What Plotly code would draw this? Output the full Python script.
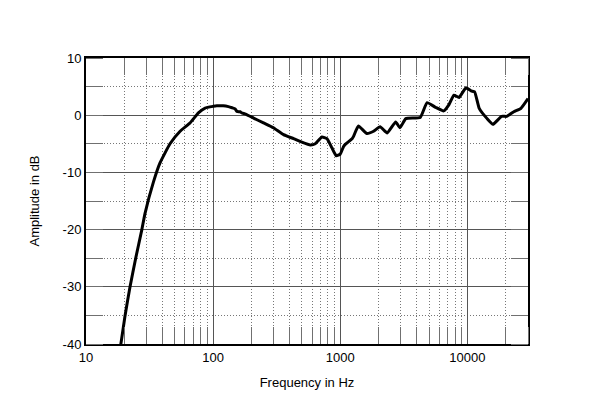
import plotly.graph_objects as go

# frequency response
freq_hz = [18.0, 18.8, 20.3, 22.2, 24.6, 27.5, 29.1, 33.9, 38.3, 45.8, 55.0, 65.9,
           76.6, 86.5, 100, 107, 120, 132, 141, 149, 154, 163, 168, 180, 208, 249,
           298, 358, 429, 499, 581, 636, 718, 786, 860, 930, 1000, 1060, 1095, 1240,
           1273, 1390, 1620, 1830, 2060, 2340, 2730, 2950, 3280, 4260, 4820, 5640,
           6520, 7150, 7840, 8600, 9750, 10700, 11400, 12400, 14300, 15900, 18600,
           20400, 23200, 26400, 30000]
amp_db = [-42.0, -40.0, -35.0, -30.0, -25.0, -20.0, -17.2, -11.7, -8.3, -5.0, -2.8, -1.35,
          0.4, 1.25, 1.55, 1.65, 1.65, 1.5, 1.3, 1.1, 0.65, 0.6, 0.4, 0.2, -0.5, -1.35,
          -2.2, -3.4, -4.1, -4.7, -5.2, -5.0, -3.8, -4.1, -5.7, -7.1, -6.8, -5.5, -5.1, -4.1,
          -3.7, -1.9, -3.2, -2.8, -2.0, -3.1, -1.2, -2.2, -0.6, -0.4, 2.2, 1.35,
          0.75, 1.8, 3.5, 3.1, 4.8, 4.25, 4.1, 1.2, -0.6, -1.6, -0.2,
          -0.2, 0.6, 1.2, 2.9]

x_ticks = [10, 100, 1000, 10000]
x_labels = ["10", "100", "1000", "10000"]
x_minor = [m * d for d in (10, 100, 1000, 10000) for m in range(2, 10) if m * d <= 30000]
y_ticks = [-40, -30, -20, -10, 0, 10]
y_labels = ["-40", "-30", "-20", "-10", "0", "10"]

X_RANGE = [1, 4.4771]
Y_RANGE = [-40, 10]

font = dict(family="Liberation Sans, Arial, sans-serif", size=13, color="black")
minor_ticks = dict(ticks="inside", ticklen=17, tickcolor="#707070", tickwidth=1.2)
minor_grid = dict(showgrid=True, gridcolor="#777777", griddash="1px,2px", gridwidth=1)

fig = go.Figure()
fig.add_scatter(x=freq_hz, y=amp_db, mode="lines",
                line=dict(color="black", width=3, shape="spline", smoothing=0.4),
                showlegend=False, hoverinfo="skip")
# invisible copy so the top/right tick axes get drawn
fig.add_scatter(x=freq_hz, y=amp_db, mode="lines", xaxis="x2", yaxis="y2",
                line=dict(width=0), opacity=0, showlegend=False, hoverinfo="skip")

fig.update_layout(
    width=592, height=399,
    margin=dict(l=78, r=72, t=50, b=63),
    plot_bgcolor="white", paper_bgcolor="white",
    font=font,
    xaxis=dict(
        type="log", range=X_RANGE,
        tickmode="array", tickvals=x_ticks, ticktext=x_labels,
        showgrid=True, gridcolor="#555555", gridwidth=1,
        showline=True, linecolor="black", linewidth=2, mirror=True,
        ticks="", tickfont=font, zeroline=False,
        minor=dict(tickmode="array", tickvals=x_minor, **minor_grid, **minor_ticks),
        title=dict(text="Frequency in Hz", font=font, standoff=14),
    ),
    yaxis=dict(
        range=Y_RANGE,
        tickmode="array", tickvals=y_ticks, ticktext=y_labels,
        showgrid=True, gridcolor="#555555", gridwidth=1,
        showline=True, linecolor="black", linewidth=2, mirror=True,
        ticks="", tickfont=font, zeroline=False,
        minor=dict(dtick=5, **minor_grid, **minor_ticks),
        title=dict(text="Amplitude in dB", font=font, standoff=20),
    ),
    xaxis2=dict(
        type="log", range=X_RANGE, overlaying="x", side="top",
        tickmode="array", tickvals=x_ticks, ticks="", showticklabels=False,
        showgrid=False, zeroline=False,
        minor=dict(tickmode="array", tickvals=x_minor, showgrid=False, **minor_ticks),
    ),
    yaxis2=dict(
        range=Y_RANGE, overlaying="y", side="right",
        tickmode="array", tickvals=y_ticks, ticks="", showticklabels=False,
        showgrid=False, zeroline=False,
        minor=dict(dtick=5, showgrid=False, **minor_ticks),
    ),
)

fig.write_html("out.html")
